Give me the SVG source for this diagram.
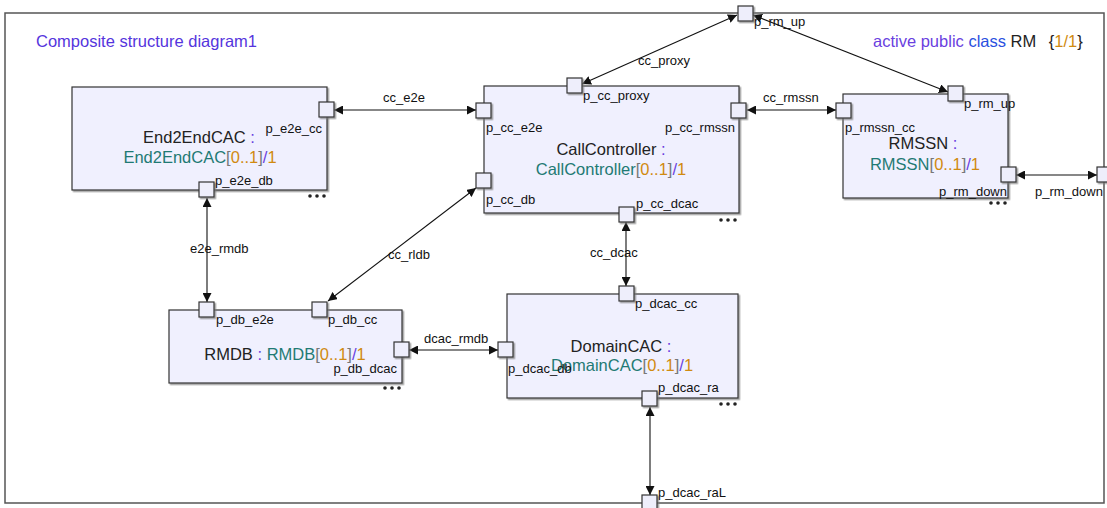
<svg xmlns="http://www.w3.org/2000/svg" width="1107" height="508" viewBox="0 0 1107 508">
<defs>
<style>
.node{fill:#f0f0fe;stroke:#333;stroke-width:1.2;filter:url(#sh)}
.port{fill:#eeeefb;stroke:#333;stroke-width:1.2;filter:url(#sh)}
.frame{fill:#fff;stroke:#555;stroke-width:1.5}
.conn{fill:none;stroke:#111;stroke-width:1.1;marker-start:url(#ah);marker-end:url(#ah)}
text{font-family:"Liberation Sans",Arial,sans-serif}
.pl{font-size:13px;fill:#111}
.cl{font-size:13px;fill:#111}
.nm{font-size:16.5px;fill:#222}
.title{font-size:16.5px;fill:#5535dd}
.pur{fill:#6a3fe0}
.blue{fill:#2a4fe0}
.teal{fill:#1f7a74}
.org{fill:#d08a10}
.gry{fill:#777}
.dot{fill:#222}
</style>
<filter id="sh" x="-10%" y="-10%" width="130%" height="130%">
<feDropShadow dx="1.5" dy="1.5" stdDeviation="0.7" flood-color="#777" flood-opacity="0.7"/>
</filter>
<marker id="ah" viewBox="0 0 10 10" refX="10" refY="5" markerWidth="9" markerHeight="9" markerUnits="userSpaceOnUse" orient="auto-start-reverse">
<path d="M0,0 L10,5 L0,10 z" fill="#111"/>
</marker>
</defs>

<g id="frame">
<rect class="frame" x="5" y="13" width="1099" height="490"/>
<text class="title" x="36" y="47">Composite structure diagram1</text>
<text x="873" y="47" style="font-size:16.5px"><tspan class="pur">active public </tspan><tspan class="blue">class </tspan><tspan fill="#222">RM </tspan><tspan fill="#222" dx="8">{</tspan><tspan class="org">1/1</tspan><tspan fill="#222">}</tspan></text>
</g>

<g id="connectors">
<path class="conn" d="M334,110 L476,110"/>
<text class="cl" x="383" y="102">cc_e2e</text>
<path class="conn" d="M747,110 L836,110"/>
<text class="cl" x="763" y="102">cc_rmssn</text>
<path class="conn" d="M737,15 L582,84"/>
<text class="cl" x="638" y="65">cc_proxy</text>
<path class="conn" d="M753,15 L948,92"/>
<path class="conn" d="M1016,175 L1097,175"/>
<path class="conn" d="M207,198 L207,302"/>
<text class="cl" x="190" y="253">e2e_rmdb</text>
<path class="conn" d="M476,188 L328,301"/>
<text class="cl" x="388" y="259">cc_rldb</text>
<path class="conn" d="M626,222 L626,286"/>
<text class="cl" x="590" y="257">cc_dcac</text>
<path class="conn" d="M409,350 L498,350"/>
<text class="cl" x="424" y="343">dcac_rmdb</text>
<path class="conn" d="M650,407 L650,495"/>
</g>

<g id="port_rm_up_outer">
<rect class="port" x="738" y="6" width="15" height="15"/>
<text class="pl" x="754" y="26">p_rm_up</text>
</g>
<g id="port_rm_down_outer">
<rect class="port" x="1097" y="167" width="15" height="15"/>
<text class="pl" x="1035" y="196">p_rm_down</text>
</g>
<g id="port_dcac_raL">
<rect class="port" x="642" y="495" width="15" height="15"/>
<text class="pl" x="658" y="497">p_dcac_raL</text>
</g>

<g id="End2EndCAC">
<rect class="node" x="72" y="87" width="255" height="103"/>
<text class="nm" x="199" y="143" text-anchor="middle">End2EndCAC <tspan class="pur">:</tspan></text>
<text class="nm" x="200" y="163" text-anchor="middle"><tspan class="teal">End2EndCAC</tspan><tspan class="gry">[</tspan><tspan class="org">0..1</tspan><tspan class="gry">]</tspan><tspan class="pur">/</tspan><tspan class="org">1</tspan></text>
<rect class="port" x="319" y="102" width="15" height="15"/>
<text class="pl" x="322" y="133" text-anchor="end">p_e2e_cc</text>
<rect class="port" x="199" y="182" width="15" height="15"/>
<text class="pl" x="215" y="185">p_e2e_db</text>
<circle class="dot" cx="310" cy="196" r="1.8"/><circle class="dot" cx="317" cy="196" r="1.8"/><circle class="dot" cx="324" cy="196" r="1.8"/>
</g>

<g id="CallController">
<rect class="node" x="484" y="86" width="255" height="127"/>
<text class="nm" x="611" y="155" text-anchor="middle">CallController <tspan class="pur">:</tspan></text>
<text class="nm" x="611" y="175" text-anchor="middle"><tspan class="teal">CallController</tspan><tspan class="gry">[</tspan><tspan class="org">0..1</tspan><tspan class="gry">]</tspan><tspan class="pur">/</tspan><tspan class="org">1</tspan></text>
<rect class="port" x="567" y="78" width="15" height="15"/>
<text class="pl" x="583" y="100">p_cc_proxy</text>
<rect class="port" x="476" y="103" width="15" height="15"/>
<text class="pl" x="486" y="132">p_cc_e2e</text>
<rect class="port" x="731" y="103" width="15" height="15"/>
<text class="pl" x="735" y="132" text-anchor="end">p_cc_rmssn</text>
<rect class="port" x="476" y="173" width="15" height="15"/>
<text class="pl" x="486" y="204">p_cc_db</text>
<rect class="port" x="619" y="207" width="15" height="15"/>
<text class="pl" x="636" y="208">p_cc_dcac</text>
<circle class="dot" cx="721" cy="220" r="1.8"/><circle class="dot" cx="728" cy="220" r="1.8"/><circle class="dot" cx="735" cy="220" r="1.8"/>
</g>

<g id="RMSSN">
<rect class="node" x="843" y="94" width="165" height="104"/>
<text class="nm" x="923" y="149" text-anchor="middle">RMSSN <tspan class="pur">:</tspan></text>
<text class="nm" x="925" y="170" text-anchor="middle"><tspan class="teal">RMSSN</tspan><tspan class="gry">[</tspan><tspan class="org">0..1</tspan><tspan class="gry">]</tspan><tspan class="pur">/</tspan><tspan class="org">1</tspan></text>
<rect class="port" x="948" y="86" width="15" height="15"/>
<text class="pl" x="964" y="108">p_rm_up</text>
<rect class="port" x="836" y="103" width="15" height="15"/>
<text class="pl" x="845" y="132">p_rmssn_cc</text>
<rect class="port" x="1001" y="167" width="15" height="15"/>
<text class="pl" x="1007" y="196" text-anchor="end">p_rm_down</text>
<circle class="dot" cx="991" cy="203" r="1.8"/><circle class="dot" cx="998" cy="203" r="1.8"/><circle class="dot" cx="1005" cy="203" r="1.8"/>
</g>

<g id="RMDB">
<rect class="node" x="169" y="310" width="233" height="73"/>
<text class="nm" x="285" y="360" text-anchor="middle">RMDB <tspan class="pur">:</tspan> <tspan class="teal">RMDB</tspan><tspan class="gry">[</tspan><tspan class="org">0..1</tspan><tspan class="gry">]</tspan><tspan class="pur">/</tspan><tspan class="org">1</tspan></text>
<rect class="port" x="199" y="302" width="15" height="15"/>
<text class="pl" x="216" y="324">p_db_e2e</text>
<rect class="port" x="312" y="302" width="15" height="15"/>
<text class="pl" x="328" y="324">p_db_cc</text>
<rect class="port" x="394" y="342" width="15" height="15"/>
<text class="pl" x="397" y="373" text-anchor="end">p_db_dcac</text>
<circle class="dot" cx="385" cy="388" r="1.8"/><circle class="dot" cx="392" cy="388" r="1.8"/><circle class="dot" cx="399" cy="388" r="1.8"/>
</g>

<g id="DomainCAC">
<rect class="node" x="507" y="294" width="231" height="104"/>
<text class="nm" x="621" y="352" text-anchor="middle">DomainCAC <tspan class="pur">:</tspan></text>
<text class="nm" x="622" y="371" text-anchor="middle"><tspan class="teal">DomainCAC</tspan><tspan class="gry">[</tspan><tspan class="org">0..1</tspan><tspan class="gry">]</tspan><tspan class="pur">/</tspan><tspan class="org">1</tspan></text>
<rect class="port" x="619" y="286" width="15" height="15"/>
<text class="pl" x="635" y="308">p_dcac_cc</text>
<rect class="port" x="498" y="342" width="15" height="15"/>
<text class="pl" x="508" y="373">p_dcac_db</text>
<rect class="port" x="642" y="391" width="15" height="15"/>
<text class="pl" x="658" y="392">p_dcac_ra</text>
<circle class="dot" cx="721" cy="404" r="1.8"/><circle class="dot" cx="728" cy="404" r="1.8"/><circle class="dot" cx="735" cy="404" r="1.8"/>
</g>
</svg>
